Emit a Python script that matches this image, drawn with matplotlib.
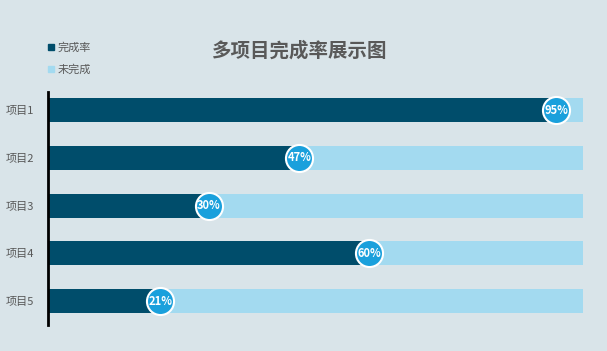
import numpy as np
import matplotlib.pyplot as plt
from matplotlib.lines import Line2D

plt.rcParams['font.family'] = ['Noto Sans CJK SC', 'DejaVu Sans']

# data
projects = ['项目1', '项目2', '项目3', '项目4', '项目5']
done = [95, 47, 30, 60, 21]
total = [100, 100, 100, 100, 100]

bg = '#d9e4e9'
dark = '#004d6b'
light = '#a3daf0'
dot = '#1aa0dc'
grey = '#595959'

fig = plt.figure(figsize=(6.07, 3.51), dpi=100)
fig.patch.set_facecolor(bg)
ax = fig.add_axes([48 / 607, 1 - 325 / 351, 535 / 607, 233 / 351])
ax.set_facecolor(bg)

y = np.arange(len(projects))
ax.barh(y, total, height=0.5, color=light)
ax.barh(y, done, height=0.5, color=dark)
ax.scatter(done, y, s=380, color=dot, edgecolor='white', linewidth=1.5, zorder=3)
for xi, yi in zip(done, y):
    ax.text(xi, yi, f'{xi}%', ha='center', va='center', color='white',
            fontsize=8, fontweight='bold', zorder=4)

ax.set_xlim(0, 100)
ax.set_ylim(4.5, -0.38)
ax.set_yticks(y)
ax.set_yticklabels(projects, fontsize=8, color=grey)
ax.tick_params(axis='y', length=0, pad=10)
ax.set_xticks([])
for sp in ['top', 'right', 'bottom']:
    ax.spines[sp].set_visible(False)
ax.spines['left'].set_linewidth(2)
ax.spines['left'].set_color('black')

fig.text(300 / 607, 1 - 51 / 351, '多项目完成率展示图', ha='center', va='center',
         fontsize=14, fontweight='bold', color=grey)

handles = [Line2D([], [], marker='s', linestyle='', color=dark, markersize=5),
           Line2D([], [], marker='s', linestyle='', color=light, markersize=5)]
fig.legend(handles, ['完成率', '未完成'], loc='upper left',
           bbox_to_anchor=(42 / 607, 1 - 37 / 351), frameon=False,
           fontsize=8, labelcolor=grey, handlelength=0.6, handletextpad=0.3,
           labelspacing=1.0, borderpad=0)

fig.savefig('out.png', dpi=100, facecolor=bg)
